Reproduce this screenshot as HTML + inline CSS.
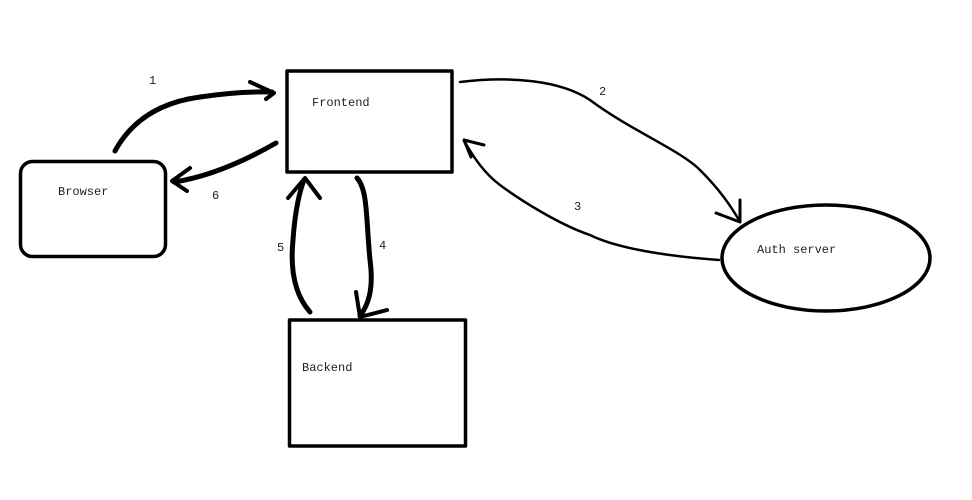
<!DOCTYPE html>
<html><head><meta charset="utf-8"><style>
html,body{margin:0;padding:0;background:#fff;}
svg{display:block;}
text{font-family:"Liberation Mono","DejaVu Sans Mono",monospace;font-size:12px;fill:#222;}
</style></head><body>
<svg width="972" height="500" viewBox="0 0 972 500" xmlns="http://www.w3.org/2000/svg">
<g fill="none" stroke="#000" stroke-linecap="round" stroke-linejoin="round">
<rect x="287" y="71" width="165" height="101" stroke-width="3.5"/>
<rect x="20.5" y="161.5" width="145" height="95" rx="12" stroke-width="3.5"/>
<rect x="289.5" y="320" width="176" height="126" stroke-width="3.5"/>
<ellipse cx="826" cy="258" rx="104" ry="53" stroke-width="3.5"/>
<!-- 1 -->
<path d="M115,151 Q140,105 200,97 Q240,91 272,92" stroke-width="5"/>
<path d="M250,82 L274,93 L266,99" stroke-width="4"/>
<!-- 6 -->
<path d="M276,143 Q220,175 174,182" stroke-width="5"/>
<path d="M190,168 L172,181 L187,191" stroke-width="4"/>
<!-- 2 -->
<path d="M460,82 C510,76 560,80 590,100 C630,130 680,150 700,170 C720,190 730,205 739,220" stroke-width="2.5"/>
<path d="M740,200 L740,222 L716,213" stroke-width="3"/>
<!-- 3 -->
<path d="M719,260 C650,255 610,245 590,235 C560,225 520,200 500,185 C480,170 470,150 464,141" stroke-width="2.5"/>
<path d="M484,145 L464,140 L471,157" stroke-width="3"/>
<!-- 5 -->
<path d="M310,312 C295,295 290,270 293,240 C295,210 300,190 304,180" stroke-width="5"/>
<path d="M288,198 L305,178 L320,198" stroke-width="4"/>
<!-- 4 -->
<path d="M357,178 C368,190 366,220 370,260 C374,290 368,305 360,316" stroke-width="5"/>
<path d="M356,292 L360,317 L387,310" stroke-width="4"/>
</g>
<text x="312" y="106">Frontend</text>
<text x="58" y="195">Browser</text>
<text x="302" y="371">Backend</text>
<text x="757" y="253">Auth server</text>
<text x="149" y="84">1</text>
<text x="599" y="95">2</text>
<text x="574" y="210">3</text>
<text x="379" y="249">4</text>
<text x="277" y="251">5</text>
<text x="212" y="199">6</text>
</svg>
</body></html>
